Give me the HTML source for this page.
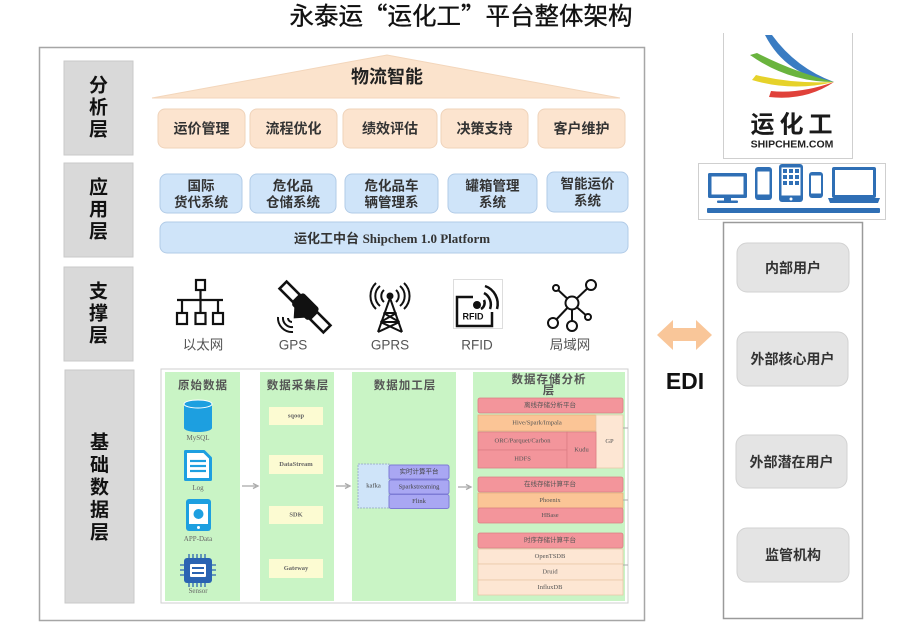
<!DOCTYPE html>
<html><head><meta charset="utf-8">
<style>
html,body{margin:0;padding:0;background:#fff;}
svg{display:block;}
.c{font-family:"Liberation Sans","Noto Sans CJK SC",sans-serif;}
.t{font-family:"Noto Sans CJK SC","Liberation Sans",sans-serif;}
.s{font-family:"Liberation Serif","Noto Sans CJK SC",serif;}
.b{font-weight:bold;}
</style></head>
<body>
<svg width="920" height="626" viewBox="0 0 920 626" xmlns="http://www.w3.org/2000/svg">
<rect width="920" height="626" fill="#fff"/>
<g text-anchor="middle" dominant-baseline="central">
<!-- Title -->
<text x="461" y="15" class="t" font-size="24.5" fill="#111" stroke="#111" stroke-width="0.35">永泰运“运化工”平台整体架构</text>

<!-- Outer frame -->
<rect x="39.5" y="47.5" width="605" height="573" fill="none" stroke="#a6a6a6" stroke-width="1.5"/>

<!-- Left labels -->
<g fill="#d9d9d9" stroke="#c9c9c9">
<rect x="64" y="61" width="69" height="94"/>
<rect x="64" y="163" width="69" height="94"/>
<rect x="64" y="267" width="69" height="94"/>
<rect x="65" y="370" width="69" height="233"/>
</g>
<g class="c b" font-size="19" fill="#111">
<text x="98.5" y="86">分</text><text x="98.5" y="108">析</text><text x="98.5" y="130">层</text>
<text x="98.5" y="188">应</text><text x="98.5" y="210">用</text><text x="98.5" y="232">层</text>
<text x="98.5" y="292">支</text><text x="98.5" y="314">撑</text><text x="98.5" y="336">层</text>
<text x="99.5" y="443">基</text><text x="99.5" y="465.5">础</text><text x="99.5" y="488">数</text><text x="99.5" y="510.5">据</text><text x="99.5" y="533">层</text>
</g>

<!-- Triangle -->
<polygon points="152,98 387,55 620,98" fill="#fbe3cc" stroke="#f3d6bb" stroke-width="1"/>
<text x="387" y="77" class="c b" font-size="18" fill="#222">物流智能</text>

<!-- Analysis boxes -->
<g fill="#fce4cf" stroke="#efd3ba">
<rect x="158" y="109" width="87" height="39" rx="7"/>
<rect x="250" y="109" width="87" height="39" rx="7"/>
<rect x="343" y="109" width="94" height="39" rx="7"/>
<rect x="441" y="109" width="87" height="39" rx="7"/>
<rect x="538" y="109" width="87" height="39" rx="7"/>
</g>
<g class="c b" font-size="14" fill="#333">
<text x="201.5" y="128.5">运价管理</text>
<text x="293.5" y="128.5">流程优化</text>
<text x="390" y="128.5">绩效评估</text>
<text x="484.5" y="128.5">决策支持</text>
<text x="581.5" y="128.5">客户维护</text>
</g>

<!-- Application boxes -->
<g fill="#cfe4f9" stroke="#b1cbe7">
<rect x="160" y="174" width="82" height="39" rx="7"/>
<rect x="250" y="174" width="86" height="39" rx="7"/>
<rect x="345" y="174" width="93" height="39" rx="7"/>
<rect x="448" y="174" width="89" height="39" rx="7"/>
<rect x="547" y="172" width="81" height="40" rx="7"/>
<rect x="160" y="222" width="468" height="31" rx="7"/>
</g>
<g class="c b" font-size="13.5" fill="#333">
<text x="201" y="186">国际</text><text x="201" y="202.5">货代系统</text>
<text x="293" y="186">危化品</text><text x="293" y="202.5">仓储系统</text>
<text x="391.5" y="186">危化品车</text><text x="391.5" y="202.5">辆管理系</text>
<text x="492.5" y="186">罐箱管理</text><text x="492.5" y="202.5">系统</text>
<text x="587.5" y="184">智能运价</text><text x="587.5" y="201">系统</text>
</g>
<text x="392" y="238" font-size="13" fill="#333" class="b"><tspan class="c">运化工中台 </tspan><tspan class="s">Shipchem 1.0 Platform</tspan></text>

<!-- Support icons -->
<!-- Ethernet -->
<g fill="none" stroke="#111" stroke-width="2.2">
<rect x="196" y="280" width="9" height="10"/>
<line x1="200.5" y1="290" x2="200.5" y2="313"/>
<line x1="177" y1="300" x2="223" y2="300"/>
<line x1="182" y1="300" x2="182" y2="313"/>
<line x1="218" y1="300" x2="218" y2="313"/>
<rect x="177" y="313" width="10" height="11"/>
<rect x="195.5" y="313" width="10" height="11"/>
<rect x="213" y="313" width="10" height="11"/>
</g>
<!-- GPS satellite -->
<g transform="rotate(45 305 307)">
<rect x="274" y="302" width="19" height="10" fill="#fff" stroke="#111" stroke-width="2.6"/>
<rect x="293" y="298" width="24" height="17" rx="3" fill="#111"/>
<rect x="317" y="302" width="19" height="10" fill="#fff" stroke="#111" stroke-width="2.6"/>
<path d="M297,314 L313,314 L305,323 Z" fill="#111"/>
</g>
<g fill="none" stroke="#111" stroke-width="2">
<path d="M292,322 A4,4 0 0 1 288,318"/>
<path d="M293,327 A9,9 0 0 1 283,317"/>
<path d="M293,332 A14,14 0 0 1 278,317"/>
</g>
<!-- GPRS tower -->
<g fill="none" stroke="#111" stroke-width="2">
<path d="M390,298 L378,332 M390,298 L402,332"/>
<path d="M383.5,313 L396.5,313 M380.5,322 L399.5,322 M383.5,313 L399.5,322 M396.5,313 L380.5,322 M380.5,322 L402,332 M399.5,322 L378,332"/>
<path d="M384,290 A8,8 0 0 0 384,302 M396,290 A8,8 0 0 1 396,302"/>
<path d="M380,286 A13,13 0 0 0 380,306 M400,286 A13,13 0 0 1 400,306"/>
<path d="M376,283 A18,18 0 0 0 376,309 M404,283 A18,18 0 0 1 404,309"/>
</g>
<circle cx="390" cy="296" r="3.5" fill="#111"/>
<!-- RFID -->
<rect x="453.5" y="279.5" width="49" height="49" fill="#fff" stroke="#ddd"/>
<g fill="none" stroke="#111" stroke-width="2.5">
<path d="M473,297 L457,297 L457,326 L492,326 L492,312"/>
<path d="M484,300 A7,7 0 0 1 481,309"/>
<path d="M484,293 A13,13 0 0 1 490,309"/>
<path d="M485,286 A19,19 0 0 1 497,309"/>
</g>
<circle cx="477" cy="305" r="4" fill="#111"/>
<text x="473" y="316.5" class="c b" font-size="9" fill="#111">RFID</text>
<!-- LAN -->
<g stroke="#111" stroke-width="2" fill="#fff">
<line x1="572" y1="303" x2="556" y2="288"/>
<line x1="572" y1="303" x2="591" y2="285"/>
<line x1="572" y1="303" x2="553" y2="323"/>
<line x1="572" y1="303" x2="572" y2="326"/>
<line x1="572" y1="303" x2="588" y2="317"/>
<circle cx="572" cy="303" r="6.5"/>
<circle cx="556" cy="288" r="3"/>
<circle cx="591" cy="285" r="5"/>
<circle cx="553" cy="323" r="5"/>
<circle cx="572" cy="326" r="5"/>
<circle cx="588" cy="317" r="3"/>
</g>
<g class="c" font-size="13.5" fill="#555">
<text x="203" y="345">以太网</text>
<text x="293" y="345">GPS</text>
<text x="390" y="345">GPRS</text>
<text x="477" y="345">RFID</text>
<text x="570" y="345">局域网</text>
</g>

<!-- Base data panel -->
<rect x="161" y="369" width="467" height="234" fill="#fff" stroke="#cfcfcf"/>
<g fill="#c9f4c5">
<rect x="165" y="372" width="75" height="229"/>
<rect x="260" y="372" width="74" height="229"/>
<rect x="352" y="372" width="104" height="229"/>
<rect x="473" y="372" width="152" height="229"/>
</g>
<g class="c b" font-size="11.5" fill="#555" letter-spacing="1">
<text x="203" y="386">原始数据</text>
<text x="298" y="386">数据采集层</text>
<text x="405" y="386">数据加工层</text>
<text x="549" y="380">数据存储分析</text>
<text x="549" y="391">层</text>
</g>
<!-- col1 icons -->
<rect x="184" y="404" width="28" height="24" fill="#1d9fe0"/>
<ellipse cx="198" cy="428" rx="14" ry="4" fill="#1d9fe0"/>
<ellipse cx="198" cy="404" rx="14" ry="4" fill="#1d9fe0" stroke="#fff" stroke-width="1"/>
<path d="M185.5,451.5 L204,451.5 L210.5,458 L210.5,479.5 L185.5,479.5 Z" fill="#fff" stroke="#1d9fe0" stroke-width="3" stroke-linejoin="round"/>
<g stroke="#1d9fe0" stroke-width="2.2"><line x1="190" y1="461" x2="206" y2="461"/><line x1="190" y1="466" x2="206" y2="466"/><line x1="190" y1="471" x2="206" y2="471"/></g>
<rect x="186" y="499" width="25" height="32" rx="3" fill="#1d9fe0"/>
<rect x="189" y="504" width="19" height="20" fill="#fff"/>
<circle cx="198.5" cy="514" r="5" fill="#1d9fe0"/>
<circle cx="198.5" cy="527.5" r="1.5" fill="#fff"/>
<!-- sensor chip -->
<g stroke="#2a63b2" stroke-width="1.3">
<line x1="189" y1="554" x2="189" y2="587"/><line x1="193" y1="554" x2="193" y2="587"/><line x1="197" y1="554" x2="197" y2="587"/><line x1="201" y1="554" x2="201" y2="587"/><line x1="205" y1="554" x2="205" y2="587"/>
<line x1="180" y1="565" x2="216" y2="565"/><line x1="180" y1="570" x2="216" y2="570"/><line x1="180" y1="575" x2="216" y2="575"/>
</g>
<rect x="184" y="558" width="28" height="25" rx="3" fill="#2a63b2"/>
<rect x="190" y="564" width="16" height="13" rx="1" fill="#fff"/>
<g stroke="#2a63b2" stroke-width="2"><line x1="192" y1="568" x2="204" y2="568"/><line x1="192" y1="573" x2="204" y2="573"/></g>
<g class="s" font-size="7" fill="#666">
<text x="198" y="438">MySQL</text>
<text x="198" y="488">Log</text>
<text x="198" y="539">APP-Data</text>
<text x="198" y="591">Sensor</text>
</g>
<!-- col2 -->
<g fill="#fcfbd2">
<rect x="269" y="407" width="54" height="18"/>
<rect x="269" y="455" width="54" height="19"/>
<rect x="269" y="506" width="54" height="18"/>
<rect x="269" y="559" width="54" height="19"/>
</g>
<g class="s b" font-size="6.5" fill="#666">
<text x="296" y="416">sqoop</text>
<text x="296" y="464.5">DataStream</text>
<text x="296" y="515">SDK</text>
<text x="296" y="568.5">Gateway</text>
</g>
<!-- arrows -->
<g stroke="#aaa" stroke-width="1.3" fill="none">
<line x1="242" y1="486" x2="256" y2="486"/><path d="M253,483.5 L258,486 L253,488.5"/>
<line x1="336" y1="486" x2="348" y2="486"/><path d="M345,483.5 L350,486 L345,488.5"/>
<line x1="458" y1="487" x2="469" y2="487"/><path d="M466,484.5 L471,487 L466,489.5"/>
</g>
<!-- col3 -->
<rect x="358" y="464" width="31" height="44" fill="#cfe4f9" stroke="#9fb3c9" stroke-dasharray="2 1"/>
<g fill="#a9a7f3" stroke="#7d7bd6">
<rect x="389" y="465" width="60" height="14" rx="2"/>
<rect x="389" y="480" width="60" height="14" rx="2"/>
<rect x="389" y="494.5" width="60" height="14" rx="2"/>
</g>
<g class="s" font-size="6.5" fill="#444">
<text x="373.5" y="486">kafka</text>
<text x="419" y="472">实时计算平台</text>
<text x="419" y="487">Sparkstreaming</text>
<text x="419" y="501.5">Flink</text>
</g>
<!-- col4 -->
<g stroke-width="0.8">
<rect x="478" y="398" width="145" height="15" rx="2" fill="#f3959b" stroke="#dc7d84"/>
<rect x="478" y="415" width="118" height="16" fill="#fbc596" stroke="#e9ad7c"/>
<rect x="596" y="415" width="27" height="53" fill="#fde6d3" stroke="#e9c8a8"/>
<rect x="478" y="432" width="89" height="18" fill="#f3959b" stroke="#dc7d84"/>
<rect x="478" y="450" width="89" height="18" fill="#f3959b" stroke="#dc7d84"/>
<rect x="567" y="432" width="29" height="36" fill="#f3959b" stroke="#dc7d84"/>
<rect x="478" y="477" width="145" height="15" rx="2" fill="#f3959b" stroke="#dc7d84"/>
<rect x="478" y="493" width="145" height="15" fill="#fbc596" stroke="#e9ad7c"/>
<rect x="478" y="508" width="145" height="15" rx="2" fill="#f3959b" stroke="#dc7d84"/>
<rect x="478" y="533" width="145" height="15" rx="2" fill="#f3959b" stroke="#dc7d84"/>
<rect x="478" y="549" width="145" height="15" fill="#fde6d3" stroke="#e9c8a8"/>
<rect x="478" y="564" width="145" height="16" fill="#fde6d3" stroke="#e9c8a8"/>
<rect x="478" y="580" width="145" height="15" fill="#fde6d3" stroke="#e9c8a8"/>
</g>
<g class="s" font-size="6.5" fill="#555">
<text x="550" y="405.5">离线存储分析平台</text>
<text x="537" y="423">Hive/Spark/Impala</text>
<text x="609.5" y="441.5">GP</text>
<text x="522.5" y="441">ORC/Parquet/Carbon</text>
<text x="522.5" y="459">HDFS</text>
<text x="581.5" y="450">Kudu</text>
<text x="550" y="484.5">在线存储计算平台</text>
<text x="550" y="500.5">Phoenix</text>
<text x="550" y="515.5">HBase</text>
<text x="550" y="540.5">时序存储计算平台</text>
<text x="550" y="556.5">OpenTSDB</text>
<text x="550" y="572">Druid</text>
<text x="550" y="587.5">InfluxDB</text>
</g>
<g stroke="#aaa" stroke-width="1">
<line x1="623" y1="428" x2="628" y2="428"/>
<line x1="623" y1="500" x2="628" y2="500"/>
<line x1="623" y1="565" x2="628" y2="565"/>
</g>

<!-- Right: logo -->
<path d="M723.5,33 L723.5,158.5 L852.5,158.5 L852.5,33" fill="none" stroke="#cfcfcf"/>
<path d="M765,35 Q786,76 834,82 Q796,68 772,35 Z" fill="#3a7cc2"/>
<path d="M750,55 Q788,82 834,82 Q794,72 757,53 Z" fill="#6ab43e"/>
<path d="M752,80 Q792,92 834,82 Q792,84 756,75 Z" fill="#e6d22a"/>
<path d="M769,97 Q806,101 834,82 Q800,94 771,91 Z" fill="#e0413a"/>
<text x="794" y="125" class="c b" font-size="24" fill="#1a1a1a" letter-spacing="5">运化工</text>
<text x="792" y="144.5" class="c b" font-size="10.5" fill="#222">SHIPCHEM.COM</text>

<!-- Devices -->
<rect x="698.5" y="163.5" width="187" height="56" fill="#fff" stroke="#cfcfcf"/>
<g fill="#2f6fb5">
<rect x="708" y="173" width="39" height="25" rx="1.5"/>
<rect x="711.5" y="176.5" width="32" height="18" fill="#fff"/>
<rect x="724" y="198" width="7" height="3"/>
<rect x="717" y="200.5" width="21" height="2.5" rx="1"/>
<rect x="755" y="167" width="17" height="33" rx="3"/>
<rect x="757.5" y="171.5" width="12" height="23" fill="#fff"/>
<rect x="779" y="164" width="24" height="38" rx="3"/>
<rect x="781.5" y="167.5" width="19" height="28" fill="#fff"/>
<g>
<rect x="783" y="169" width="4" height="4"/><rect x="789" y="169" width="4" height="4"/><rect x="795" y="169" width="4" height="4"/>
<rect x="783" y="175" width="4" height="4"/><rect x="789" y="175" width="4" height="4"/><rect x="795" y="175" width="4" height="4"/>
<rect x="783" y="181" width="4" height="4"/><rect x="789" y="181" width="4" height="4"/><rect x="795" y="181" width="4" height="4"/>
</g>
<circle cx="791" cy="199" r="1.5" fill="#fff"/>
<rect x="809" y="172" width="14" height="26" rx="3"/>
<rect x="811" y="175.5" width="10" height="18" fill="#fff"/>
<rect x="832" y="167" width="44" height="31" rx="2"/>
<rect x="835" y="170" width="38" height="25" fill="#fff"/>
<path d="M828,198 L880,198 L878,203 L830,203 Z"/>
<rect x="707" y="208" width="173" height="5" rx="1"/>
</g>

<!-- EDI -->
<polygon points="657,335 673,320 673,328 696,328 696,320 712,335 696,350 696,341 673,341 673,350" fill="#f9c699"/>
<text x="685" y="381" class="c b" font-size="23" fill="#111">EDI</text>

<!-- Users column -->
<rect x="723.5" y="222.5" width="139" height="396" fill="none" stroke="#9a9a9a" stroke-width="1.5"/>
<g fill="#e4e4e4" stroke="#d2d2d2">
<rect x="737" y="243" width="112" height="49" rx="10"/>
<rect x="737" y="332" width="111" height="54" rx="10"/>
<rect x="736" y="435" width="111" height="53" rx="10"/>
<rect x="737" y="528" width="112" height="54" rx="10"/>
</g>
<g class="c b" font-size="14" fill="#333">
<text x="793" y="268">内部用户</text>
<text x="792.5" y="359">外部核心用户</text>
<text x="791.5" y="462">外部潜在用户</text>
<text x="793" y="555">监管机构</text>
</g>
</g>
</svg>
</body></html>
